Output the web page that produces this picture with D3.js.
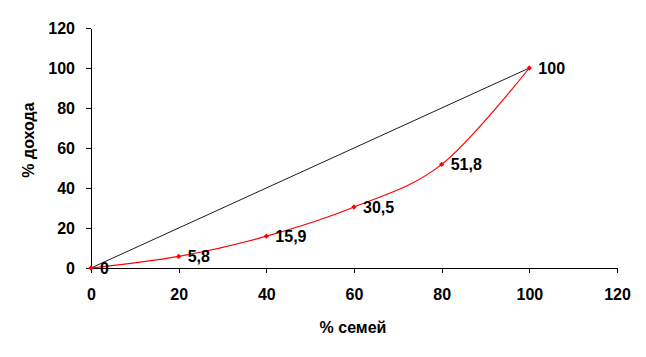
<!DOCTYPE html>
<html><head><meta charset="utf-8">
<script src="https://cdn.jsdelivr.net/npm/d3@7"></script>
<style>body{margin:0;background:#fff}svg{display:block}</style>
</head><body>
<script>
const familyShare = [0, 20, 40, 60, 80, 100];
const incomeShare = [0, 5.8, 15.9, 30.5, 51.8, 100];
const pointLabels = ["0", "5,8", "15,9", "30,5", "51,8", "100"];
const equalityX = [0, 100];
const equalityY = [0, 100];
const xTicks = [0, 20, 40, 60, 80, 100, 120];
const yTicks = [0, 20, 40, 60, 80, 100, 120];

const W = 646, H = 357;
const m = {left: 91, right: 29, top: 28, bottom: 89};
const svg = d3.select("body").append("svg").attr("width", W).attr("height", H);
const x = d3.scaleLinear().domain([0, 120]).range([m.left, W - m.right]);
const y = d3.scaleLinear().domain([0, 120]).range([H - m.bottom, m.top]);
const font = "Arial, 'Liberation Sans', sans-serif";

const xa = svg.append("g").attr("transform", `translate(0,${y(0)})`)
  .call(d3.axisBottom(x).tickValues(xTicks).tickSize(5).tickPadding(16).tickSizeOuter(0));
const ya = svg.append("g").attr("transform", `translate(${x(0)},0)`)
  .call(d3.axisLeft(y).tickValues(yTicks).tickSize(5).tickPadding(11).tickSizeOuter(0));
[xa, ya].forEach(g => {
  g.selectAll("path,line").attr("stroke", "#000").attr("stroke-width", 1).attr("shape-rendering", "crispEdges");
  g.selectAll("text").attr("font-family", font).attr("font-size", 16).attr("font-weight", "bold").attr("fill", "#000");
});

// equality line
svg.append("path")
  .datum(equalityX.map((v, i) => [v, equalityY[i]]))
  .attr("d", d3.line().x(d => x(d[0])).y(d => y(d[1])))
  .attr("fill", "none").attr("stroke", "#000").attr("stroke-width", 0.9);

const pts = familyShare.map((v, i) => [v, incomeShare[i], pointLabels[i]]);
svg.append("path").datum(pts)
  .attr("d", d3.line().curve(d3.curveCatmullRom.alpha(0)).x(d => x(d[0])).y(d => y(d[1])))
  .attr("fill", "none").attr("stroke", "#ff0000").attr("stroke-width", 1.2);

svg.selectAll(".mk").data(pts).enter().append("path")
  .attr("transform", d => `translate(${x(d[0])},${y(d[1])}) rotate(45)`)
  .attr("d", d3.symbol(d3.symbolSquare, 14))
  .attr("fill", "#ff0000");

svg.selectAll(".lb").data(pts).enter().append("text")
  .attr("x", d => x(d[0]) + 9).attr("y", d => y(d[1]))
  .attr("dy", "0.36em")
  .attr("font-family", font).attr("font-size", 16).attr("font-weight", "bold")
  .text(d => d[2]);

svg.append("text").attr("x", 353).attr("y", 333).attr("text-anchor", "middle")
  .attr("font-family", font).attr("font-size", 16).attr("font-weight", "bold").text("% семей");
svg.append("text").attr("transform", "translate(34,140) rotate(-90)").attr("text-anchor", "middle")
  .attr("font-family", font).attr("font-size", 16).attr("font-weight", "bold").text("% дохода");
</script>
</body></html>
